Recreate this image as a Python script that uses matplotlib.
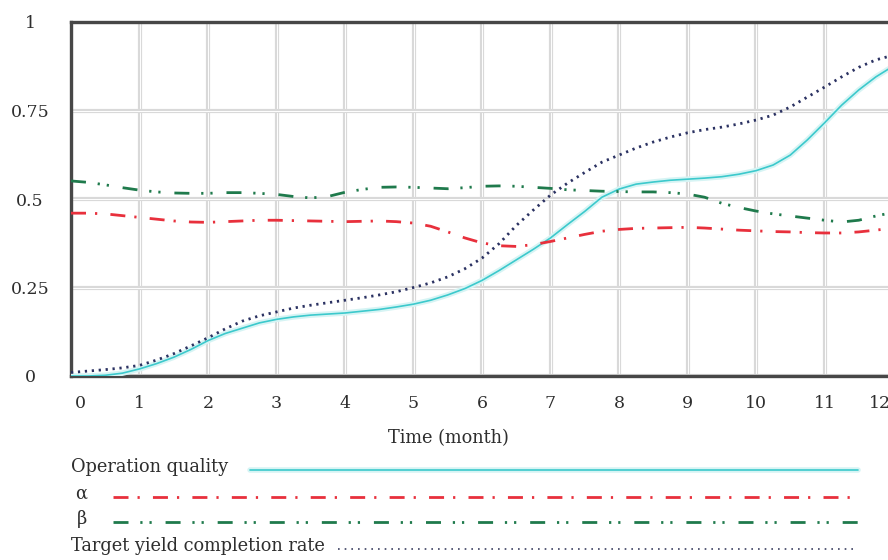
import matplotlib
matplotlib.use("Agg")
import matplotlib.pyplot as plt
import matplotlib.patheffects as pe
import matplotlib.transforms as mtransforms
from matplotlib.lines import Line2D

# ---------------- data ----------------
months = [0, 0.25, 0.5, 0.75, 1, 1.25, 1.5, 1.75, 2, 2.25, 2.5, 2.75, 3, 3.25, 3.5, 3.75,
          4, 4.25, 4.5, 4.75, 5, 5.25, 5.5, 5.75, 6, 6.25, 6.5, 6.75, 7, 7.25, 7.5, 7.75,
          8, 8.25, 8.5, 8.75, 9, 9.25, 9.5, 9.75, 10, 10.25, 10.5, 10.75, 11, 11.25, 11.5,
          11.75, 12]
operation_quality = [0.0, 0.0, 0.002, 0.008, 0.02, 0.035, 0.053, 0.075, 0.1, 0.12, 0.135,
                     0.15, 0.16, 0.167, 0.172, 0.175, 0.178, 0.183, 0.188, 0.195, 0.203,
                     0.214, 0.229, 0.247, 0.27, 0.298, 0.328, 0.358, 0.39, 0.428, 0.465,
                     0.505, 0.528, 0.542, 0.548, 0.553, 0.556, 0.559, 0.563, 0.57, 0.58,
                     0.596, 0.624, 0.667, 0.715, 0.765, 0.808, 0.845, 0.875]
alpha_vals = [0.46, 0.46, 0.458, 0.453, 0.448, 0.443, 0.438, 0.435, 0.434, 0.436, 0.438,
              0.44, 0.44, 0.439, 0.438, 0.437, 0.436, 0.437, 0.438, 0.436, 0.432, 0.423,
              0.407, 0.39, 0.376, 0.368, 0.366, 0.371, 0.38, 0.39, 0.4, 0.409, 0.414,
              0.417, 0.418, 0.419, 0.42, 0.418, 0.415, 0.412, 0.41, 0.408, 0.407, 0.405,
              0.404, 0.404, 0.407, 0.412, 0.418]
beta_vals = [0.551, 0.547, 0.54, 0.532, 0.525, 0.52, 0.517, 0.516, 0.516, 0.518, 0.518,
             0.516, 0.513, 0.507, 0.503, 0.507, 0.519, 0.527, 0.533, 0.534, 0.533, 0.531,
             0.529, 0.532, 0.536, 0.537, 0.536, 0.533, 0.53, 0.526, 0.524, 0.522, 0.521,
             0.52, 0.52, 0.518, 0.514, 0.505, 0.488, 0.476, 0.466, 0.458, 0.452, 0.446,
             0.44, 0.435, 0.44, 0.452, 0.462]
target_rate = [0.01, 0.014, 0.018, 0.023, 0.03, 0.045, 0.063, 0.085, 0.108, 0.133, 0.155,
               0.17, 0.181, 0.192, 0.2, 0.207, 0.214, 0.221, 0.229, 0.238, 0.25, 0.263,
               0.28, 0.303, 0.333, 0.374, 0.425, 0.469, 0.511, 0.545, 0.575, 0.604, 0.624,
               0.644, 0.661, 0.675, 0.687, 0.696, 0.703, 0.712, 0.723, 0.737, 0.76, 0.788,
               0.816, 0.845, 0.872, 0.893, 0.906]
series_names = ["Operation quality", "\u03b1", "\u03b2", "Target yield completion rate"]
x_ticks = list(range(0, 13))
y_ticks = [0, 0.25, 0.5, 0.75, 1]
y_tick_labels = ["0", "0.25", "0.5", "0.75", "1"]
x_label = "Time (month)"

# ---------------- style ----------------
plt.rcParams['lines.scale_dashes'] = False
plt.rcParams['font.family'] = ['DejaVu Serif']

W, H = 888, 560
fig = plt.figure(figsize=(W / 100, H / 100), dpi=100)
ax = fig.add_axes([71 / W, 184 / H, 822 / W, 354 / H])

c_q = '#3cc9cc'
c_a = '#e8303c'
c_b = '#1f7a4c'
c_t = '#2b3262'
txt_c = '#2e2e2e'

sty = {
    0: dict(color=c_q, lw=1.2, ls='-', solid_capstyle='round',
            path_effects=[pe.Stroke(linewidth=4.0, foreground='#d6f4f4'), pe.Normal()]),
    1: dict(color=c_a, lw=2.0, ls=(0, (10.8, 6.5, 1.6, 9.5))),
    2: dict(color=c_b, lw=2.0, ls=(0, (10.8, 8.5, 1.6, 5.0, 1.6, 10.0))),
    3: dict(color=c_t, lw=2.0, ls=(0, (1.6, 3.4))),
}

series = [operation_quality, alpha_vals, beta_vals, target_rate]
for i in [1, 2, 3, 0]:
    ax.plot(months, series[i], zorder=3 + i, **sty[i])

ax.set_xlim(0, 12)
ax.set_ylim(0, 1)
ax.set_xticks(x_ticks)
ax.set_yticks(y_ticks)
ax.set_yticklabels(y_tick_labels, ha='center')
ax.grid(True, color='white', lw=0.7, zorder=0,
        path_effects=[pe.Stroke(linewidth=3.0, foreground='#d9d9d9'), pe.Normal()])
ax.set_axisbelow(True)
ax.tick_params(axis='both', length=0, labelsize=12.5, labelcolor=txt_c)
ax.tick_params(axis='y', pad=29.5)
ax.tick_params(axis='x', pad=14)
xlabels = ax.get_xticklabels()
for lab, dx in [(xlabels[0], 9), (xlabels[-1], -13)]:
    lab.set_transform(lab.get_transform() +
                      mtransforms.ScaledTranslation(dx / 100, 0, fig.dpi_scale_trans))
for s in ['left', 'top', 'bottom']:
    ax.spines[s].set_color('#474747')
    ax.spines[s].set_linewidth(2.4)
ax.spines['right'].set_visible(False)

ax.set_xlabel(x_label, fontsize=12.8, color=txt_c, va='center')
ax.xaxis.set_label_coords((448 - 71) / 822, -(438 - 376) / 354)

# ---------------- legend (manual, below) ----------------
leg_rows = [
    (470, 71, 'left', 250),
    (497, 81.5, 'center', 113),
    (522, 81.5, 'center', 113),
    (549, 71, 'left', 338),
]
for i, (yy, tx, ha, lx0) in enumerate(leg_rows):
    fig.text(tx / W, 1 - (yy - 3) / H, series_names[i], ha=ha, va='center',
             fontsize=12.8, color=txt_c)
    kw = dict(sty[i])
    if i == 3:
        kw['lw'] = 1.2
        kw['ls'] = (0, (1.2, 3.6))
        kw['color'] = '#3b4060'
    fig.add_artist(Line2D([lx0 / W, 858 / W], [1 - yy / H, 1 - yy / H],
                          transform=fig.transFigure, **kw))

fig.savefig('out.png', dpi=100)
